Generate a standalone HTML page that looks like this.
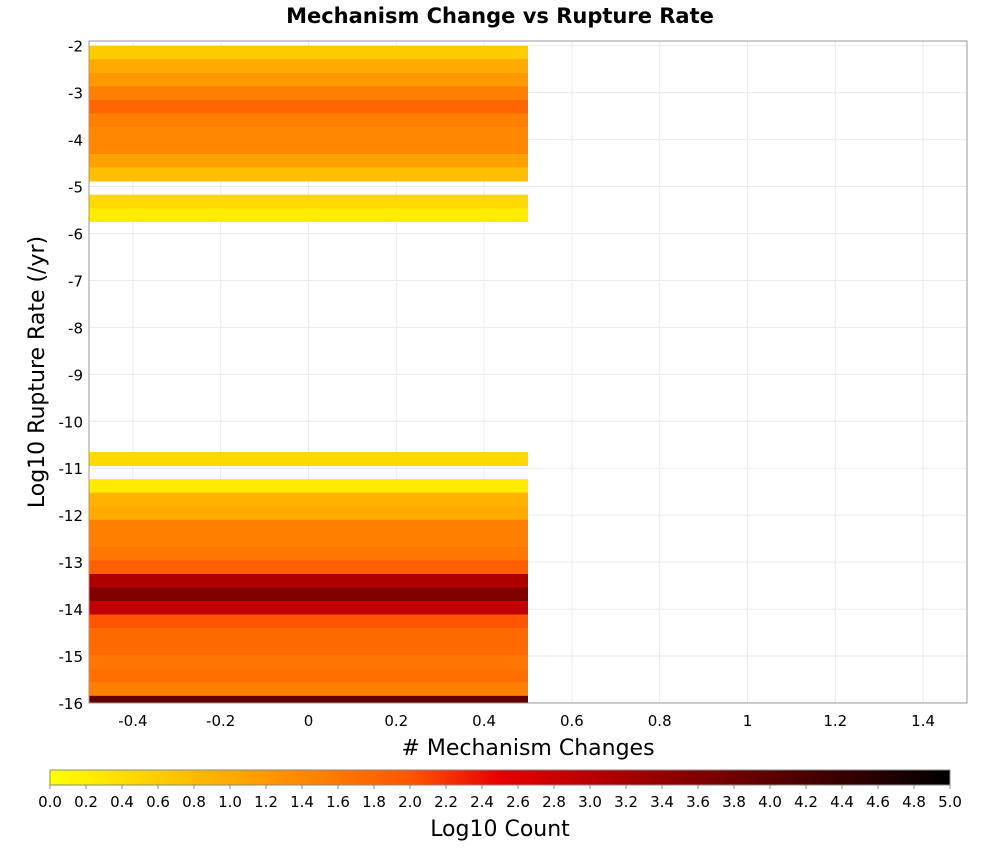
<!DOCTYPE html>
<html><head><meta charset="utf-8"><style>
body{margin:0;background:#fff;font-family:"Liberation Sans","DejaVu Sans",sans-serif}
text{font-family:"DejaVu Sans","Liberation Sans",sans-serif}
</style></head><body>
<svg id="chart" width="1000" height="850" xmlns="http://www.w3.org/2000/svg">
<defs>
<linearGradient id="cmap" x1="0" x2="1" y1="0" y2="0">
<stop offset="0" stop-color="#ffff00"/><stop offset="0.2" stop-color="#ffaa00"/><stop offset="0.4" stop-color="#ff5500"/><stop offset="0.5" stop-color="#e60000"/><stop offset="1" stop-color="#000000"/>
</linearGradient>
</defs>
<text x="500" y="23" text-anchor="middle" font-size="21" font-weight="bold">Mechanism Change vs Rupture Rate</text>
<g id="grid"></g>
<g id="cells"></g>
<rect x="89" y="41" width="878" height="662" fill="none" stroke="#999" stroke-width="1"/>
<g id="axes"></g>
<text x="528" y="755" text-anchor="middle" font-size="22"># Mechanism Changes</text>
<text transform="translate(44,372) rotate(-90)" text-anchor="middle" font-size="22">Log10 Rupture Rate (/yr)</text>
<rect x="50" y="770" width="900" height="15" fill="url(#cmap)" stroke="#888" stroke-width="1"/>
<g id="cbar"></g>
<text x="500" y="836" text-anchor="middle" font-size="22">Log10 Count</text>
</svg>
<script>
const xCategories=[0];
const binWidth=0.2885;
const topEdge=-2.0;
// values per row from top (null = empty)
const rowValues=[0.6,1.0,1.2,1.5,1.8,1.5,1.4,1.4,1.1,0.75,null,0.45,0.25,
null,null,null,null,null,null,null,null,null,null,null,null,null,null,null,null,null,
0.45,null,0.25,0.9,1.0,1.5,1.5,1.6,1.9,3.1,3.6,2.9,2.0,1.75,1.75,1.6,1.7,1.5,3.95];
const xTicks=[-0.4,-0.2,0,0.2,0.4,0.6,0.8,1,1.2,1.4];
const yTicks=[-2,-3,-4,-5,-6,-7,-8,-9,-10,-11,-12,-13,-14,-15,-16];
const cTicks=[0,0.2,0.4,0.6,0.8,1,1.2,1.4,1.6,1.8,2,2.2,2.4,2.6,2.8,3,3.2,3.4,3.6,3.8,4,4.2,4.4,4.6,4.8,5];
const NS="http://www.w3.org/2000/svg";
const X0=89,X1=967,Y0=41,Y1=703;
const xs=v=>X0+(v+0.5)/2*(X1-X0);
const ys=v=>Y1-(v+16)/(-1.9+16)*(Y1-Y0);
const cs=v=>50+v/5*900;
function color(v){
  const st=[[0,255,255,0],[1,255,170,0],[2,255,85,0],[2.5,230,0,0],[5,0,0,0]];
  for(let i=0;i<st.length-1;i++){const a=st[i],b=st[i+1];if(v<=b[0]){const t=(v-a[0])/(b[0]-a[0]);
  return `rgb(${Math.round(a[1]+t*(b[1]-a[1]))},${Math.round(a[2]+t*(b[2]-a[2]))},${Math.round(a[3]+t*(b[3]-a[3]))})`;}}
  return '#000';
}
function mk(tag,attrs,parent,txt){const e=document.createElementNS(NS,tag);for(const k in attrs)e.setAttribute(k,attrs[k]);if(txt!==undefined)e.textContent=txt;parent.appendChild(e);return e;}
const grid=document.getElementById('grid'),axes=document.getElementById('axes'),cells=document.getElementById('cells'),cbar=document.getElementById('cbar');
xTicks.forEach(t=>{
  const l=mk('line',{x1:xs(t),x2:xs(t),y1:Y0,y2:Y1,stroke:'#ebebeb'},grid);
  
  
  const tx=mk('text',{x:xs(t),y:Y1+23,'text-anchor':'middle','font-size':15},axes,String(t));
  
  
});
yTicks.forEach(t=>{
  const l=mk('line',{x1:X0,x2:X1,y1:ys(t),y2:ys(t),stroke:'#ebebeb'},grid);
  
  
  const tx=mk('text',{x:X0-6,y:ys(t)+6,'text-anchor':'end','font-size':15},axes,String(t));
  
  
});
xCategories.forEach(c=>{
  rowValues.forEach((v,i)=>{
    if(v===null)return;
    const top=topEdge-i*binWidth,bot=top-binWidth;
    const yt=Math.max(ys(top),Y0),yb=Math.min(ys(bot),Y1);
    const r=mk('rect',{x:xs(c-0.5),y:yt,width:xs(c+0.5)-xs(c-0.5),height:yb-yt+0.3,fill:color(v)},cells);
    
    
  });
});
cTicks.forEach(t=>{
  mk('line',{x1:cs(t),x2:cs(t),y1:785,y2:789,stroke:'#888'},cbar);
  const tx=mk('text',{x:cs(t),y:807,'text-anchor':'middle','font-size':15},cbar,t.toFixed(1));
  
  
});
</script>
</body></html>
